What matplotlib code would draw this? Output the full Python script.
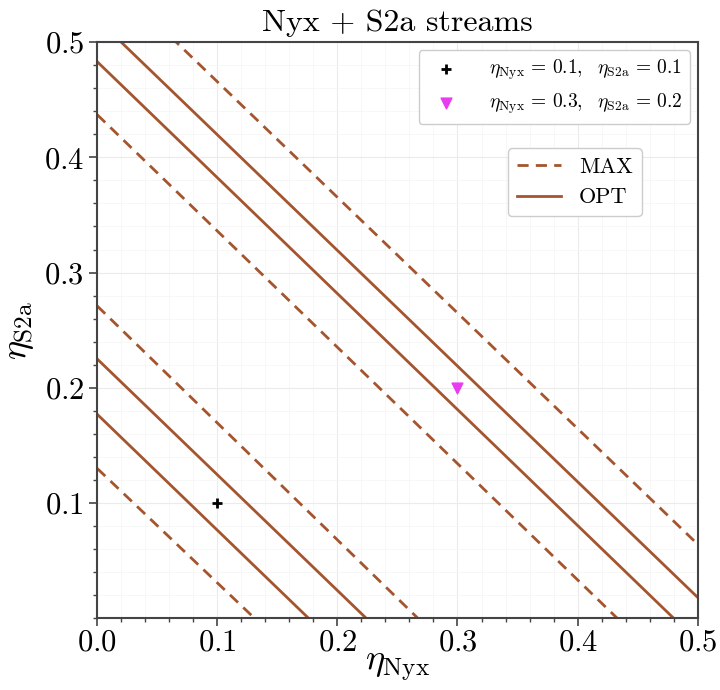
import matplotlib
matplotlib.use("Agg")
import matplotlib.pyplot as plt
import numpy as np
from matplotlib.ticker import MultipleLocator

plt.rcParams['font.family'] = 'serif'
plt.rcParams['font.serif'] = ['cmr10', 'DejaVu Serif']
plt.rcParams['mathtext.fontset'] = 'cm'
plt.rcParams['axes.formatter.use_mathtext'] = True

# each line: (value at eta_Nyx = 0, value at eta_S2a = 0)
max_lines = [(0.130, 0.131), (0.271, 0.267), (0.437, 0.433), (0.566, 0.564)]
opt_lines = [(0.177, 0.176), (0.225, 0.224), (0.483, 0.480), (0.520, 0.518)]

pt_nyx = [0.1, 0.3]
pt_s2a = [0.1, 0.2]
pt_labels = [r"$\eta_{\rm Nyx}\,=\,0.1,\ \ \eta_{\rm S2a}\,=\,0.1$",
             r"$\eta_{\rm Nyx}\,=\,0.3,\ \ \eta_{\rm S2a}\,=\,0.2$"]

col = '#a5552e'

fig = plt.figure(figsize=(7.2, 6.9), dpi=100)
ax = fig.add_axes([0.135, 0.104, 0.834, 0.835])

x = np.linspace(0, 0.6, 50)
hmax = hopt = None
for y0, x0 in max_lines:
	hmax, = ax.plot(x, y0 - y0 / x0 * x, color=col, lw=2, dashes=(4, 2.6))
for y0, x0 in opt_lines:
	hopt, = ax.plot(x, y0 - y0 / x0 * x, '-', color=col, lw=2)

p1 = ax.scatter(pt_nyx[0], pt_s2a[0], marker='+', color='black', s=60, lw=2, zorder=5)
p2 = ax.scatter(pt_nyx[1], pt_s2a[1], marker='v', color='#e83cf0', s=60, zorder=5)

leg1 = ax.legend([p1, p2], pt_labels, loc='upper right', fontsize=14, framealpha=1,
	borderaxespad=0.4, handletextpad=1.2)
ax.add_artist(leg1)
ax.legend([hmax, hopt], ['MAX', 'OPT'], loc='upper right', bbox_to_anchor=(0.925, 0.835),
	fontsize=16, framealpha=1)

ax.set_xlim(0, 0.5)
ax.set_ylim(0, 0.5)
ax.xaxis.set_major_locator(MultipleLocator(0.1))
ax.yaxis.set_major_locator(MultipleLocator(0.1))
ax.xaxis.set_minor_locator(MultipleLocator(0.02))
ax.yaxis.set_minor_locator(MultipleLocator(0.02))
ax.set_yticks([0.1, 0.2, 0.3, 0.4, 0.5])
ax.grid(True, which='major', color='#ebebeb', lw=0.8)
ax.grid(True, which='minor', color='#f6f6f6', lw=0.6)
ax.set_axisbelow(True)
ax.tick_params(which='major', labelsize=22, length=6, width=1.2, color='#444444')
ax.tick_params(axis='x', which='major', pad=2)
ax.tick_params(which='minor', length=3, width=1, color='#444444')
for s in ax.spines.values():
	s.set_color('#444444')
	s.set_linewidth(1.5)

ax.set_xlabel(r"$\eta_{\rm Nyx}$", fontsize=26, labelpad=-4)
ax.set_ylabel(r"$\eta_{\rm S2a}$", fontsize=26, labelpad=6)
ax.set_title("Nyx + S2a streams", fontsize=23, pad=8)

fig.savefig("out.png")
